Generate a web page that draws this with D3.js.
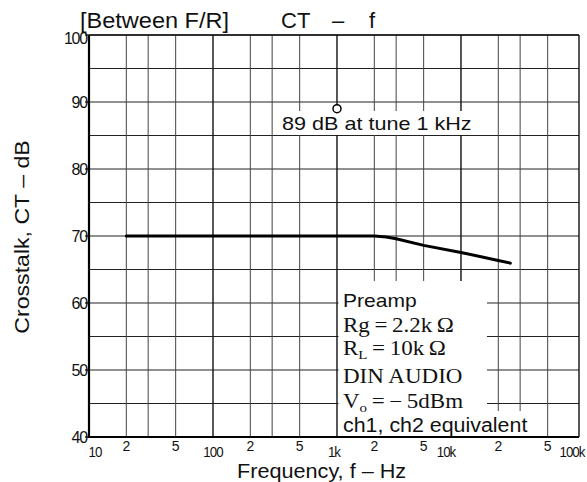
<!DOCTYPE html>
<html>
<head>
<meta charset="utf-8">
<script src="https://cdn.jsdelivr.net/npm/d3@7"></script>
<style>
  html, body { margin: 0; padding: 0; background: #fff; }
  svg { display: block; }
</style>
</head>
<body>
<script>
// ---- data ----
const freqHz = [20, 100, 1000, 2000, 2500, 3000, 5000, 10000, 20000, 25000];
const crosstalkDb = [70, 70, 70, 70, 69.85, 69.6, 68.6, 67.55, 66.35, 65.95];
const markerFreq = [1000];
const markerDb = [89];
const yTickValues = [40, 50, 60, 70, 80, 90, 100];
const yGridValues = [40, 45, 50, 55, 60, 65, 70, 75, 80, 85, 90, 95, 100];
const xDecades = [10, 100, 1000, 10000, 100000];
const xDecadeLabels = ["10", "100", "1k", "10k", "100k"];
const xMinorMult = [2, 3, 5];
const xMinorLabelMult = [2, 5];
const titleLeft = "[Between F/R]";
const yLabel = "Crosstalk, CT \u2013 dB";
const xLabel = "Frequency, f \u2013 Hz";
const annotation = "89 dB at tune 1 kHz";

// ---- layout ----
const W = 587, H = 482;
const L = 89, R = 579, T = 35, B = 437;
const svg = d3.select("body").append("svg").attr("width", W).attr("height", H);

const x = d3.scaleLog().domain([10, 89500]).range([L, R]);
const y = d3.scaleLinear().domain([40, 100]).range([B, T]);

function txt(g, px, py, s, size, sx, anchor, family) {
  return g.append("text")
    .attr("transform", `translate(${px},${py}) scale(${sx},1)`)
    .attr("text-anchor", anchor || "start")
    .attr("font-family", family || "'Liberation Sans', Arial, sans-serif")
    .attr("font-size", size)
    .attr("fill", "#111")
    .text(s);
}

// ---- grid ----
const grid = svg.append("g").attr("stroke", "#222").attr("fill", "none");
grid.selectAll("line.h").data(yGridValues).join("line")
  .attr("x1", L).attr("x2", R)
  .attr("y1", d => y(d)).attr("y2", d => y(d))
  .attr("stroke-width", 1.1);

const xGrid = [];
xDecades.forEach(d => {
  if (d < 89500) xGrid.push({ v: d, major: true });
  xMinorMult.forEach(m => { if (d * m < 89500) xGrid.push({ v: d * m, major: false }); });
});
grid.selectAll("line.v").data(xGrid).join("line")
  .attr("x1", d => x(d.v)).attr("x2", d => x(d.v))
  .attr("y1", T).attr("y2", B)
  .attr("stroke-width", d => d.major ? 1.4 : 1)
  .attr("stroke", d => d.major ? "#111" : "#444");

// ---- white areas for text ----
const x1k = x(1000);
svg.append("rect").attr("x", 280).attr("y", 111).attr("width", 194).attr("height", 24).attr("fill", "#fff");
svg.append("rect").attr("x", x1k + 1.5).attr("y", 281).attr("width", 487 - x1k - 1.5).attr("height", B - 281 - 1).attr("fill", "#fff");
svg.append("rect").attr("x", x1k + 1.5).attr("y", 411).attr("width", 535 - x1k - 1.5).attr("height", B - 411 - 1).attr("fill", "#fff");

// ---- frame ----
svg.append("line").attr("x1", L).attr("x2", L).attr("y1", T).attr("y2", B + 1).attr("stroke", "#000").attr("stroke-width", 2.2);
svg.append("line").attr("x1", L - 1).attr("x2", R).attr("y1", B).attr("y2", B).attr("stroke", "#000").attr("stroke-width", 2.2);
svg.append("line").attr("x1", L).attr("x2", R).attr("y1", T).attr("y2", T).attr("stroke", "#111").attr("stroke-width", 1.4);
svg.append("line").attr("x1", R).attr("x2", R).attr("y1", T).attr("y2", B).attr("stroke", "#111").attr("stroke-width", 1.4);

// y ticks
svg.append("g").selectAll("line").data(yTickValues).join("line")
  .attr("x1", L - 4).attr("x2", L).attr("y1", d => y(d)).attr("y2", d => y(d))
  .attr("stroke", "#000").attr("stroke-width", 1.2);
svg.append("g").selectAll("text").data(yTickValues).join("text")
  .attr("x", L - 2).attr("y", d => y(d) + (d === 100 ? 3 : 0)).attr("dy", "0.36em")
  .attr("text-anchor", "end")
  .attr("font-family", "'Liberation Sans', Arial, sans-serif")
  .attr("font-size", 16).attr("letter-spacing", -1.2)
  .attr("fill", "#111")
  .text(d => d);

// x tick labels
const decadeDx = [6, 0, -3, -15, -13];
const xl = svg.append("g");
xDecades.forEach((d, i) => {
  txt(xl, x(d) + decadeDx[i], 457, xDecadeLabels[i], 14, 0.95, "middle").attr("letter-spacing", -1);
});
xDecades.forEach(d => {
  xMinorLabelMult.forEach(m => {
    if (d * m < 89500) txt(xl, x(d * m), 451, String(m), 14, 1, "middle");
  });
});

// ---- curve ----
const line = d3.line().x((d, i) => x(freqHz[i])).y((d, i) => y(crosstalkDb[i]));
svg.append("path").datum(crosstalkDb).attr("d", line)
  .attr("fill", "none").attr("stroke", "#000").attr("stroke-width", 3)
  .attr("stroke-linecap", "round").attr("stroke-linejoin", "round");

// marker
svg.selectAll("circle.m").data(markerFreq).join("circle")
  .attr("cx", d => x(d)).attr("cy", (d, i) => y(markerDb[i])).attr("r", 4)
  .attr("fill", "#fff").attr("stroke", "#000").attr("stroke-width", 1.5);

// ---- texts ----
const tg = svg.append("g");
txt(tg, 80, 28, titleLeft, 22, 1.07);
txt(tg, 281, 28, "CT", 22, 1.0);
txt(tg, 338, 28, "\u2013", 22, 1.0, "middle");
txt(tg, 372, 28, "f", 22, 1.0, "middle");
txt(tg, 282, 130, annotation, 18, 1.2);
txt(tg, 237, 478, xLabel, 19.5, 1.11);
tg.append("text")
  .attr("transform", "translate(29,237) rotate(-90) scale(1.1,1)")
  .attr("text-anchor", "middle")
  .attr("font-family", "'Liberation Sans', Arial, sans-serif")
  .attr("font-size", 21).attr("fill", "#111").text(yLabel);

// legend block
const serif = "'Liberation Serif', 'Times New Roman', serif";
const lx = 343;
txt(tg, lx, 307, "Preamp", 18, 1.17);
txt(tg, lx, 332, "Rg\u2009=\u20092.2k\u2009\u03A9", 20, 1.15, "start", serif);
const rl = txt(tg, lx, 354.5, "R", 20, 1.15, "start", serif).text(null);
rl.append("tspan").text("R");
rl.append("tspan").attr("font-size", 13).attr("dy", 4).text("L");
rl.append("tspan").attr("dy", -4).text("\u2009=\u200910k\u2009\u03A9");
txt(tg, lx, 383, "DIN AUDIO", 20, 1.15, "start", serif);
const vo = txt(tg, lx, 408, "V", 20, 1.15, "start", serif).text(null);
vo.append("tspan").text("V");
vo.append("tspan").attr("font-size", 13).attr("dy", 4).text("o");
vo.append("tspan").attr("dy", -4).text("\u2009=\u2009\u2212\u20095dBm");
txt(tg, lx, 432, "ch1, ch2 equivalent", 20, 1.07);
</script>
</body>
</html>
